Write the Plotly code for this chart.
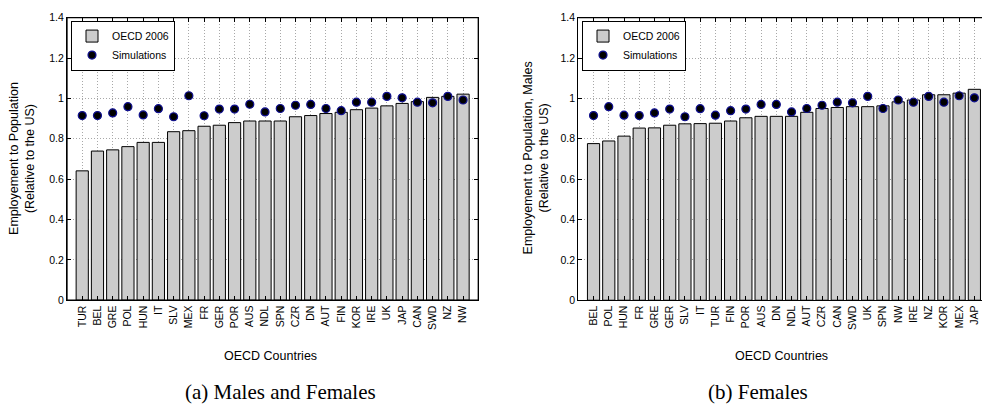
import plotly.graph_objects as go

# ---------------- data ----------------
left_countries = ["TUR", "BEL", "GRE", "POL", "HUN", "IT", "SLV", "MEX", "FR", "GER",
                  "POR", "AUS", "NDL", "SPN", "CZR", "DN", "AUT", "FIN", "KOR", "IRE",
                  "UK", "JAP", "CAN", "SWD", "NZ", "NW"]
left_oecd = [0.641, 0.739, 0.745, 0.761, 0.782, 0.782, 0.835, 0.840, 0.862, 0.867,
             0.880, 0.888, 0.888, 0.888, 0.909, 0.915, 0.925, 0.931, 0.944, 0.952,
             0.963, 0.975, 0.984, 1.005, 1.010, 1.021]
left_sim = [0.915, 0.915, 0.928, 0.959, 0.918, 0.949, 0.909, 1.013, 0.914, 0.947,
            0.947, 0.971, 0.933, 0.950, 0.966, 0.970, 0.950, 0.939, 0.981, 0.981,
            1.010, 1.003, 0.981, 0.978, 1.010, 0.992]

right_countries = ["BEL", "POL", "HUN", "FR", "GRE", "GER", "SLV", "IT", "TUR", "FIN",
                   "POR", "AUS", "DN", "NDL", "AUT", "CZR", "CAN", "SWD", "UK", "SPN",
                   "NW", "IRE", "NZ", "KOR", "MEX", "JAP"]
right_oecd = [0.776, 0.789, 0.813, 0.853, 0.854, 0.867, 0.874, 0.875, 0.877, 0.888,
              0.904, 0.911, 0.911, 0.911, 0.931, 0.950, 0.955, 0.959, 0.959, 0.963,
              0.983, 0.992, 1.018, 1.018, 1.026, 1.045]
right_sim = [0.915, 0.959, 0.917, 0.915, 0.928, 0.947, 0.909, 0.949, 0.917, 0.939,
             0.947, 0.970, 0.970, 0.933, 0.950, 0.966, 0.981, 0.978, 1.010, 0.950,
             0.992, 0.981, 1.010, 0.981, 1.013, 1.003]

y_tick_vals = [0, 0.2, 0.4, 0.6, 0.8, 1.0, 1.2, 1.4]
y_tick_text = ["0", "0.2", "0.4", "0.6", "0.8", "1", "1.2", "1.4"]

bar_name = "OECD 2006"
sim_name = "Simulations"
left_ytitle = "Employement to Population<br>(Relative to the US)"
right_ytitle = "Employement to Population, Males<br>(Relative to the US)"
xtitle = "OECD Countries"
caption_a = "(a) Males and Females"
caption_b = "(b) Females"

# ---------------- styling ----------------
W, H = 982, 415
SANS = "Liberation Sans, Arial, Helvetica, sans-serif"
SERIF = "Liberation Serif, Times New Roman, serif"
BAR_FILL = "#cccccc"
DOT_FILL = "#000000"
DOT_EDGE = "#101090"
GRID = "#a8a8a8"

fig = go.Figure()

def add_panel(countries, oecd, sim, xa, ya, legend_id):
    fig.add_trace(go.Bar(
        x=countries, y=oecd, name=bar_name, xaxis=xa, yaxis=ya,
        marker=dict(color=BAR_FILL, line=dict(color="#000000", width=1)),
        legend=legend_id, showlegend=True,
    ))
    fig.add_trace(go.Scatter(
        x=countries, y=sim, name=sim_name, xaxis=xa, yaxis=ya, mode="markers",
        marker=dict(color=DOT_FILL, size=8, line=dict(color=DOT_EDGE, width=1.2)),
        legend=legend_id, showlegend=True,
    ))

add_panel(left_countries, left_oecd, left_sim, "x", "y", "legend")
add_panel(right_countries, right_oecd, right_sim, "x2", "y2", "legend2")

plot_top, plot_bot = 12, 303
ydom = [(H - plot_bot) / H, (H - plot_top) / H]
left_l, left_r = 67, 478.3
right_l = 578.3
step = (left_r - left_l) / 27.0
right_max = (W - right_l) / step - 1.0

common_x = dict(
    type="category", showgrid=True, gridcolor=GRID, griddash="1px,2px", gridwidth=1,
    ticks="inside", ticklen=4, tickcolor="#000000", showline=True, linecolor="#000000",
    linewidth=1.3, tickangle=-90, tickfont=dict(family=SANS, size=10.5, color="#000000"),
    zeroline=False, fixedrange=True,
)
common_y = dict(
    range=[0, 1.4], tickvals=y_tick_vals, ticktext=y_tick_text, showgrid=True,
    gridcolor=GRID, griddash="1px,2px", gridwidth=1, ticks="inside", ticklen=4,
    tickcolor="#000000", showline=True, linecolor="#000000", linewidth=1.3,
    tickfont=dict(family=SANS, size=10.5, color="#000000"), zeroline=False,
    domain=ydom, fixedrange=True,
)

legend_common = dict(
    xanchor="left", yanchor="top", bgcolor="white", bordercolor="#000000",
    borderwidth=1, font=dict(family=SANS, size=10.5, color="#000000"),
    tracegroupgap=0, itemwidth=30,
)

fig.update_layout(
    width=W, height=H, autosize=False,
    margin=dict(l=0, r=0, t=0, b=0),
    paper_bgcolor="white", plot_bgcolor="white",
    bargap=0.2,
    xaxis=dict(common_x, domain=[left_l / W, left_r / W], range=[-1, 26],
               categoryorder="array", categoryarray=left_countries, anchor="y",
               mirror="ticks"),
    yaxis=dict(common_y, anchor="x", mirror="ticks"),
    xaxis2=dict(common_x, domain=[right_l / W, 1.0], range=[-1, right_max],
                categoryorder="array", categoryarray=right_countries, anchor="y2",
                mirror="ticks"),
    yaxis2=dict(common_y, anchor="x2", mirror=False),
    legend=dict(legend_common, x=71 / W, y=(H - 15) / H),
    legend2=dict(legend_common, x=582 / W, y=(H - 15) / H),
    showlegend=True,
)

# axes frames (box around each plotting area, as in the MATLAB original)
frame = dict(color="#000000", width=1.3)
fig.add_shape(type="rect", xref="x domain", yref="y domain", x0=0, x1=1, y0=0, y1=1,
              line=frame, fillcolor="rgba(0,0,0,0)", layer="above")
fig.add_shape(type="line", xref="x2 domain", yref="y2 domain", x0=0, x1=1, y0=1, y1=1,
              line=frame, layer="above")

annots = [
    dict(text=left_ytitle, x=22.5 / W, y=(H - 157) / H, textangle=-90,
         font=dict(family=SANS, size=12.5)),
    dict(text=right_ytitle, x=536 / W, y=(H - 157) / H, textangle=-90,
         font=dict(family=SANS, size=12.5)),
    dict(text=xtitle, x=270 / W, y=(H - 360) / H, font=dict(family=SANS, size=12.5)),
    dict(text=xtitle, x=781 / W, y=(H - 360) / H, font=dict(family=SANS, size=12.5)),
    dict(text=caption_a, x=280.5 / W, y=(H - 398) / H, font=dict(family=SERIF, size=21)),
    dict(text=caption_b, x=758 / W, y=(H - 398) / H, font=dict(family=SERIF, size=21)),
]
for a in annots:
    fig.add_annotation(xref="paper", yref="paper", showarrow=False,
                       xanchor="center", yanchor="middle",
                       **{k: v for k, v in a.items() if k != "font"},
                       font=dict(color="#000000", **a["font"]))

fig.write_html("out.html")
